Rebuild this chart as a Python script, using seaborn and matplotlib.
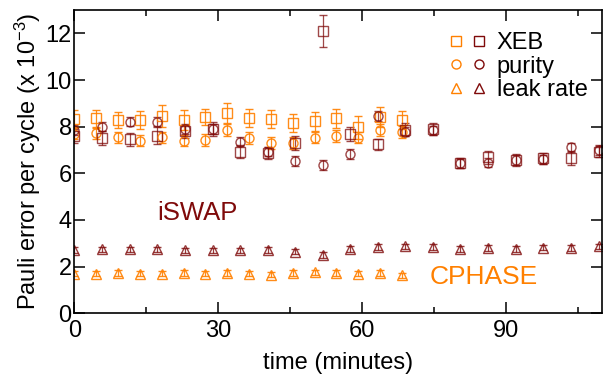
import numpy as np
import matplotlib
matplotlib.use("Agg")
import matplotlib.pyplot as plt
import seaborn as sns
from matplotlib.lines import Line2D
from matplotlib.legend_handler import HandlerTuple

# --- data (time in minutes, error x 1e-3) ---
# CPHASE runs (orange)
t_cphase = [0, 4.6, 9.1, 13.7, 18.2, 22.8, 27.3, 31.9, 36.4, 41.0, 45.5, 50.1, 54.6, 59.2, 63.7, 68.3]
xeb_cphase = [8.35, 8.36, 8.29, 8.29, 8.46, 8.29, 8.40, 8.57, 8.38, 8.33, 8.14, 8.24, 8.36, 7.97, 8.40, 8.29]
xeb_cphase_err = [0.37, 0.37, 0.36, 0.38, 0.46, 0.42, 0.34, 0.43, 0.38, 0.39, 0.39, 0.41, 0.41, 0.48, 0.43, 0.40]
pur_cphase = [7.70, 7.71, 7.54, 7.40, 7.54, 7.40, 7.43, 7.86, 7.50, 7.29, 7.31, 7.53, 7.60, 7.53, 7.86, 7.76]
pur_cphase_err = [0.25] * 16
leak_cphase = [1.70, 1.70, 1.72, 1.70, 1.70, 1.72, 1.70, 1.72, 1.70, 1.65, 1.72, 1.75, 1.72, 1.70, 1.72, 1.62]
leak_cphase_err = [0.12] * 16

# iSWAP runs (dark red)
t_iswap = [0, 5.8, 11.5, 17.3, 23.0, 28.8, 34.5, 40.3, 46.0, 51.8,
           57.5, 63.3, 69.0, 74.8, 80.5, 86.3, 92.0, 97.8, 103.5, 109.3]
xeb_iswap = [7.60, 7.50, 7.46, 7.62, 7.80, 7.90, 6.93, 6.88, 7.31, 12.10,
             7.67, 7.24, 7.86, 7.89, 6.43, 6.69, 6.57, 6.64, 6.64, 6.93]
xeb_iswap_err = [0.30, 0.30, 0.28, 0.35, 0.30, 0.28, 0.28, 0.25, 0.30, 0.70,
                 0.30, 0.25, 0.28, 0.25, 0.22, 0.28, 0.25, 0.25, 0.30, 0.25]
pur_iswap = [7.85, 8.00, 8.21, 8.21, 7.89, 7.90, 7.36, 6.93, 6.53, 6.36,
             6.83, 8.46, 7.78, 7.84, 6.43, 6.46, 6.57, 6.60, 7.11, 7.00]
pur_iswap_err = [0.20] * 20
leak_iswap = [2.71, 2.73, 2.73, 2.73, 2.69, 2.69, 2.69, 2.71, 2.64, 2.50,
              2.74, 2.83, 2.86, 2.83, 2.74, 2.79, 2.74, 2.81, 2.79, 2.86]
leak_iswap_err = [0.12] * 20

orange = "#ff8000"
darkred = "#7f0a0a"

sns.set_style("ticks")
plt.rcParams["font.family"] = ["Liberation Sans", "DejaVu Sans"]
plt.rcParams["mathtext.fontset"] = "custom"
plt.rcParams["mathtext.rm"] = "Liberation Sans"
plt.rcParams["mathtext.it"] = "Liberation Sans:italic"
plt.rcParams["text.color"] = "black"
plt.rcParams["axes.labelcolor"] = "black"
plt.rcParams["xtick.color"] = "black"
plt.rcParams["ytick.color"] = "black"
plt.rcParams["axes.edgecolor"] = "black"

fig = plt.figure(figsize=(6.05, 3.75), dpi=100)
ax = fig.add_axes([0.123, 0.165, 0.872, 0.808])

common = dict(linestyle="none", elinewidth=0.9, capsize=3.2, capthick=0.9,
              markersize=6.5, markeredgewidth=1.0, markerfacecolor="none")

series = [
    (t_cphase, xeb_cphase, xeb_cphase_err, "s", orange, 0.9),
    (t_cphase, pur_cphase, pur_cphase_err, "o", orange, 0.9),
    (t_cphase, leak_cphase, leak_cphase_err, "^", orange, 0.9),
    (t_iswap, xeb_iswap, xeb_iswap_err, "s", darkred, 0.75),
    (t_iswap, pur_iswap, pur_iswap_err, "o", darkred, 0.75),
    (t_iswap, leak_iswap, leak_iswap_err, "^", darkred, 0.8),
]
for t, y, e, m, c, a in series:
    ax.errorbar(t, y, yerr=e, fmt=m, color=c, markeredgecolor=c, alpha=a, **common)

ax.set_xlim(0, 110)
ax.set_ylim(0, 13)
ax.set_xticks([0, 30, 60, 90])
ax.set_xticks([15, 45, 75, 105], minor=True)
ax.set_yticks(np.arange(0, 13, 2))
ax.tick_params(which="both", direction="in", top=True, right=True, width=1.1, labelsize=17)
ax.tick_params(which="major", length=8)
ax.tick_params(which="minor", length=4)
ax.tick_params(axis="x", pad=5)
ax.tick_params(axis="y", pad=2)
for s in ax.spines.values():
    s.set_linewidth(1.2)

ax.set_xlabel("time (minutes)", fontsize=17, labelpad=7)
ax.set_ylabel("Pauli error per cycle (x 10$^{-3}$)", fontsize=17, labelpad=2)

ax.text(25.6, 4.3, "iSWAP", color=darkred, fontsize=18.5, ha="center", va="center")
ax.text(85.4, 1.55, "CPHASE", color=orange, fontsize=19, ha="center", va="center")

# legend: one orange and one dark red marker per row
def mk(m, c):
    return Line2D([], [], linestyle="none", marker=m, markersize=6.5, markerfacecolor="none",
                  markeredgecolor=c, markeredgewidth=1.0)

handles = [(mk("s", orange), mk("s", darkred)),
           (mk("o", orange), mk("o", darkred)),
           (mk("^", orange), mk("^", darkred))]
ax.legend(handles, ["XEB", "purity", "leak rate"],
          handler_map={tuple: HandlerTuple(ndivide=None, pad=0.4)},
          loc="upper right", bbox_to_anchor=(1.0, 0.975), frameon=False,
          fontsize=17, handlelength=1.5, handletextpad=0.5, labelspacing=0.07,
          borderaxespad=0.2)

fig.savefig("out.png", dpi=100)
